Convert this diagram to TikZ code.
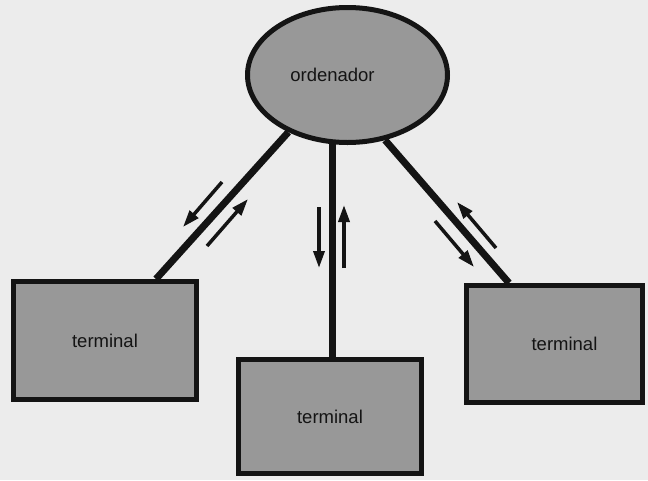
\documentclass[tikz,border=0pt]{standalone}
\usepackage{fontspec}
\setmainfont{Liberation Sans}
\usetikzlibrary{arrows.meta,shapes.geometric,calc}
\pgfdeclarelayer{paperlayer}
\pgfdeclarelayer{background}
\pgfsetlayers{paperlayer,background,main}
\definecolor{paper}{RGB}{236,236,236}
\definecolor{boxgray}{RGB}{152,152,152}
\definecolor{ink}{RGB}{20,20,20}
\begin{document}
\begin{tikzpicture}[x=1pt,y=-1pt,
  term/.style={draw=ink, line width=5pt, fill=boxgray, rectangle, inner sep=0pt,
    font=\fontsize{18.5}{22}\selectfont, text=ink},
  comp/.style={draw=ink, line width=5pt, fill=boxgray, ellipse, inner sep=0pt,
    minimum width=200pt, minimum height=135pt,
    font=\fontsize{18.5}{22}\selectfont, text=ink},
  conn/.style={draw=ink, line width=7pt},
  flow/.style={draw=ink, line width=3.5pt, -{Triangle[length=17pt,width=11pt]}}]
\begin{pgfonlayer}{paperlayer}
\fill[paper] (0,0) rectangle (648,480);
\end{pgfonlayer}
\useasboundingbox (0,0) rectangle (648,480);
% computer
\node[comp] (ell) at (347.5,75) {\hspace*{-30pt}ordenador};
% terminals
\node[term, minimum width=183pt, minimum height=118pt] (tl) at (105,340.5) {terminal};
\node[term, minimum width=183pt, minimum height=114pt] (tm) at (330,416.5) {terminal};
\node[term, minimum width=176pt, minimum height=117pt] (tr) at (554.5,344) {\hspace*{20pt}terminal};
% connector end points on the terminals
\coordinate (la) at ($(tl.north)+(51,0)$);
\coordinate (ma) at ($(tm.north)+(2,0)$);
\coordinate (ra) at ($(tr.north)+(-45.5,0)$);
\begin{pgfonlayer}{background}
\draw[conn] (la) -- (ell.224);
\draw[conn] (ma) -- (ma |- ell.center);
\draw[conn] (ra) -- (ell.300);
\end{pgfonlayer}
% data flow arrows
\coordinate (l1s) at (222,182); \coordinate (l1e) at (183,227);
\coordinate (l2s) at (207,246); \coordinate (l2e) at (248,199);
\coordinate (m1s) at (319,207); \coordinate (m1e) at (319,268);
\coordinate (m2s) at (344,268); \coordinate (m2e) at (344,205);
\coordinate (r1s) at (496,248); \coordinate (r1e) at (457,202);
\coordinate (r2s) at (435,221); \coordinate (r2e) at (474,267);
\draw[flow] (l1s) -- (l1e);
\draw[flow] (l2s) -- (l2e);
\draw[flow] (m1s) -- (m1e);
\draw[flow] (m2s) -- (m2e);
\draw[flow] (r1s) -- (r1e);
\draw[flow] (r2s) -- (r2e);
\end{tikzpicture}
\end{document}
